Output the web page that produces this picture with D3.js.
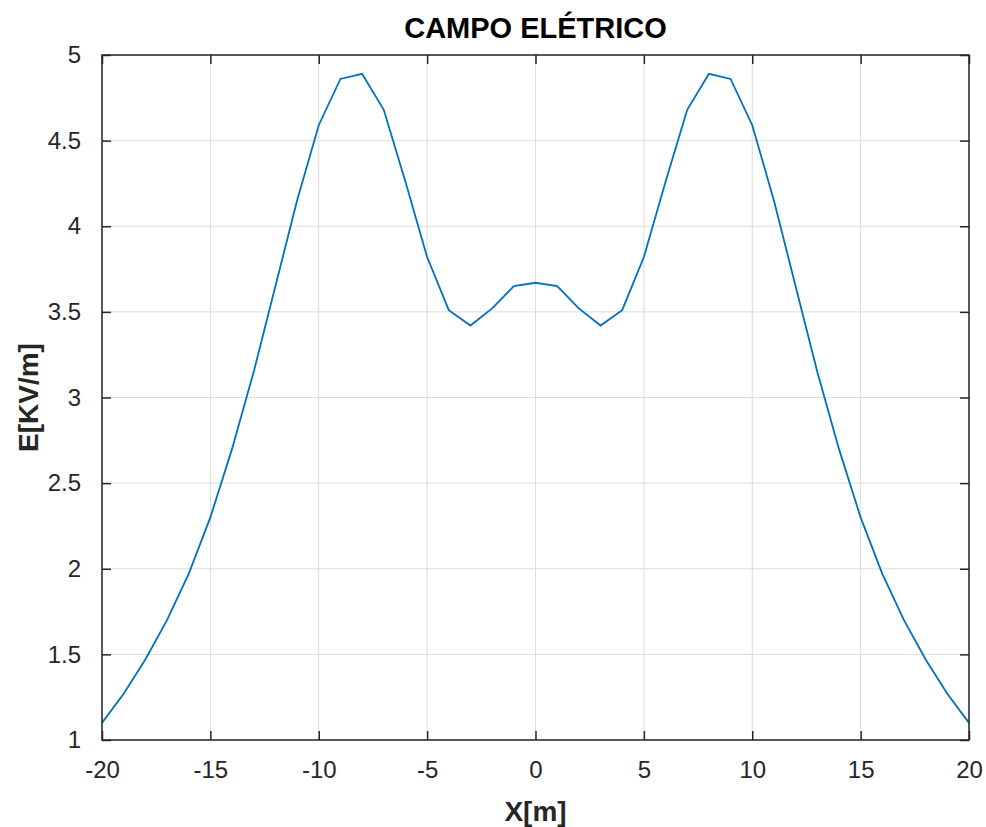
<!DOCTYPE html>
<html>
<head>
<meta charset="utf-8">
<script src="https://cdn.jsdelivr.net/npm/d3@7"></script>
<style>
  body { margin: 0; background: #fff; }
  text { font-family: "Liberation Sans", Arial, sans-serif; }
</style>
</head>
<body>
<script>
// values
var xValues = [-20, -19, -18, -17, -16, -15, -14, -13, -12, -11, -10, -9, -8, -7, -6, -5, -4, -3, -2, -1, 0,
               1, 2, 3, 4, 5, 6, 7, 8, 9, 10, 11, 12, 13, 14, 15, 16, 17, 18, 19, 20];
var eValues = [1.10, 1.27, 1.47, 1.70, 1.97, 2.30, 2.70, 3.15, 3.65, 4.15, 4.59, 4.86, 4.89, 4.68, 4.26, 3.82, 3.51, 3.42, 3.52, 3.65, 3.67,
               3.65, 3.52, 3.42, 3.51, 3.82, 4.26, 4.68, 4.89, 4.86, 4.59, 4.15, 3.65, 3.15, 2.70, 2.30, 1.97, 1.70, 1.47, 1.27, 1.10];
var xTicks = [-20, -15, -10, -5, 0, 5, 10, 15, 20];
var yTicks = [1, 1.5, 2, 2.5, 3, 3.5, 4, 4.5, 5];

var width = 986, height = 827;
var plot = {left: 102, right: 969, top: 55, bottom: 740};

var svg = d3.select('body').append('svg')
    .attr('width', width)
    .attr('height', height);

var x = d3.scaleLinear().domain([-20, 20]).range([plot.left, plot.right]);
var y = d3.scaleLinear().domain([1, 5]).range([plot.bottom, plot.top]);

var axisColor = '#262626';
var tickLen = 9;

// grid
var grid = svg.append('g');
grid.selectAll('line.gx').data(xTicks).enter().append('line')
    .attr('x1', d => x(d)).attr('x2', d => x(d))
    .attr('y1', plot.top).attr('y2', plot.bottom)
    .attr('stroke', '#dcdcdc').attr('stroke-width', 1);
grid.selectAll('line.gy').data(yTicks).enter().append('line')
    .attr('x1', plot.left).attr('x2', plot.right)
    .attr('y1', d => y(d)).attr('y2', d => y(d))
    .attr('stroke', '#dcdcdc').attr('stroke-width', 1);

// data line
var line = d3.line()
    .x(function (d, i) { return x(xValues[i]); })
    .y(function (d) { return y(d); });

svg.append('path')
    .datum(eValues)
    .attr('d', line)
    .attr('fill', 'none')
    .attr('stroke', '#0072BD')
    .attr('stroke-width', 1.8);

// axes (ticks inward, box on all sides)
var xBottom = d3.axisBottom(x).tickValues(xTicks).tickSize(-tickLen).tickPadding(tickLen + 12).tickFormat(d => String(d));
var xTop = d3.axisTop(x).tickValues(xTicks).tickSize(-tickLen).tickFormat('');
var yLeft = d3.axisLeft(y).tickValues(yTicks).tickSize(-tickLen).tickPadding(tickLen + 12).tickFormat(d => String(d));
var yRight = d3.axisRight(y).tickValues(yTicks).tickSize(-tickLen).tickFormat('');

function styleAxis(g) {
    g.select('.domain').attr('stroke', axisColor).attr('stroke-width', 1.5);
    g.selectAll('.tick line').attr('stroke', axisColor).attr('stroke-width', 1.5);
    g.selectAll('.tick text')
        .attr('fill', axisColor)
        .style('font-family', '"Liberation Sans", Arial, sans-serif')
        .style('font-size', '24px');
}

svg.append('g').attr('transform', 'translate(0,' + plot.bottom + ')').call(xBottom).call(styleAxis);
svg.append('g').attr('transform', 'translate(0,' + plot.top + ')').call(xTop).call(styleAxis);
svg.append('g').attr('transform', 'translate(' + plot.left + ',0)').call(yLeft).call(styleAxis);
svg.append('g').attr('transform', 'translate(' + plot.right + ',0)').call(yRight).call(styleAxis);

svg.selectAll('.domain').attr('d', null);
svg.append('rect')
    .attr('x', plot.left).attr('y', plot.top)
    .attr('width', plot.right - plot.left).attr('height', plot.bottom - plot.top)
    .attr('fill', 'none').attr('stroke', axisColor).attr('stroke-width', 1.5);

// title and labels
svg.append('text')
    .attr('x', (plot.left + plot.right) / 2)
    .attr('y', 38)
    .attr('text-anchor', 'middle')
    .style('font-size', '29px')
    .style('font-weight', 'bold')
    .attr('fill', '#000')
    .text('CAMPO ELÉTRICO');

svg.append('text')
    .attr('x', (plot.left + plot.right) / 2)
    .attr('y', 821)
    .attr('text-anchor', 'middle')
    .style('font-size', '28px')
    .style('font-weight', 'bold')
    .attr('fill', axisColor)
    .text('X[m]');

svg.append('text')
    .attr('transform', 'translate(38,' + (plot.top + plot.bottom) / 2 + ') rotate(-90)')
    .attr('text-anchor', 'middle')
    .style('font-size', '28px')
    .style('font-weight', 'bold')
    .attr('fill', axisColor)
    .text('E[KV/m]');
</script>
</body>
</html>
